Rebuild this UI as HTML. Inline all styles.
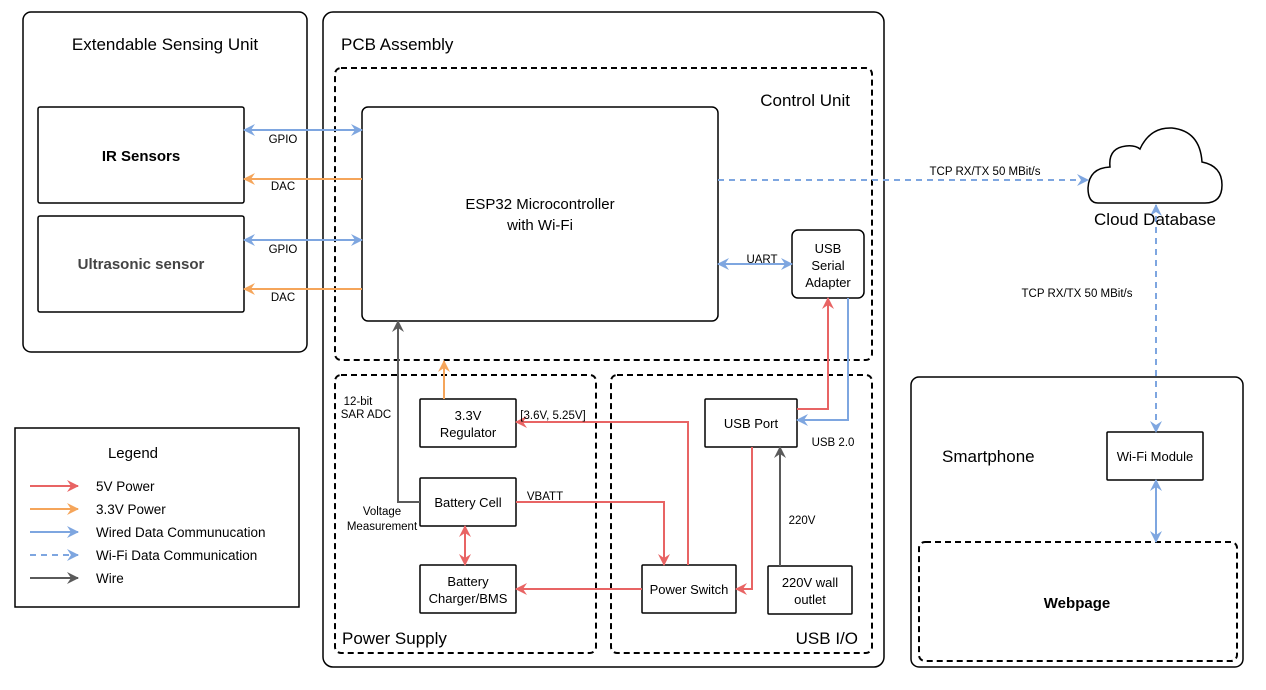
<!DOCTYPE html>
<html><head><meta charset="utf-8"><style>
html,body{margin:0;padding:0;background:#fff;}
svg{display:block;font-family:"Liberation Sans",sans-serif;}
</style></head><body>
<svg width="1266" height="690" viewBox="0 0 1266 690" xmlns="http://www.w3.org/2000/svg">
<defs>
<marker id="r" markerWidth="14" markerHeight="14" refX="11" refY="6" orient="auto-start-reverse" markerUnits="userSpaceOnUse"><path d="M0,0 L12,6 L0,12 L4,6Z" fill="#e86464"/></marker>
<marker id="o" markerWidth="14" markerHeight="14" refX="11" refY="6" orient="auto-start-reverse" markerUnits="userSpaceOnUse"><path d="M0,0 L12,6 L0,12 L4,6Z" fill="#f5a55a"/></marker>
<marker id="b" markerWidth="14" markerHeight="14" refX="11" refY="6" orient="auto-start-reverse" markerUnits="userSpaceOnUse"><path d="M0,0 L12,6 L0,12 L4,6Z" fill="#7ea6e0"/></marker>
<marker id="g" markerWidth="14" markerHeight="14" refX="11" refY="6" orient="auto-start-reverse" markerUnits="userSpaceOnUse"><path d="M0,0 L12,6 L0,12 L4,6Z" fill="#5a5a5a"/></marker>
</defs>
<g fill="none" stroke="#000" stroke-width="1.5">
<rect x="23" y="12" width="284" height="340" rx="8"/>
<rect x="38" y="107" width="206" height="96" rx="2"/>
<rect x="38" y="216" width="206" height="96" rx="2"/>
<rect x="323" y="12" width="561" height="655" rx="10"/>
<rect x="335" y="68" width="537" height="292" rx="6" stroke-dasharray="6,4" stroke-width="2"/>
<rect x="362" y="107" width="356" height="214" rx="6"/>
<rect x="792" y="230" width="72" height="68" rx="6"/>
<rect x="335" y="375" width="261" height="278" rx="6" stroke-dasharray="6,4" stroke-width="2"/>
<rect x="611" y="375" width="261" height="278" rx="6" stroke-dasharray="6,4" stroke-width="2"/>
<rect x="420" y="399" width="96" height="48" rx="1"/>
<rect x="420" y="478" width="96" height="48" rx="1"/>
<rect x="420" y="565" width="96" height="48" rx="1"/>
<rect x="642" y="565" width="94" height="48" rx="1"/>
<rect x="705" y="399" width="92" height="48" rx="1"/>
<rect x="768" y="566" width="84" height="48" rx="1"/>
<rect x="911" y="377" width="332" height="290" rx="8"/>
<rect x="1107" y="432" width="96" height="48" rx="1"/>
<rect x="919" y="542" width="318" height="119" rx="6" stroke-dasharray="6,4" stroke-width="2"/>
<rect x="15" y="428" width="284" height="179"/>
<path d="M1098,203 Q1088,203 1088,188 Q1089,168 1110,167 Q1108,148 1126,146 Q1135,145 1140,149 Q1150,127 1172,128 Q1200,131 1202,162 Q1222,166 1222,185 Q1222,203 1205,203 Z"/>
</g>
<g fill="none" stroke-width="2">
<path d="M244,130 H362" stroke="#7ea6e0" marker-start="url(#b)" marker-end="url(#b)"/>
<path d="M362,179 H244" stroke="#f5a55a" marker-end="url(#o)"/>
<path d="M244,240 H362" stroke="#7ea6e0" marker-start="url(#b)" marker-end="url(#b)"/>
<path d="M362,289 H244" stroke="#f5a55a" marker-end="url(#o)"/>
<path d="M718,180 H1088" stroke="#7ea6e0" stroke-dasharray="6,5" marker-end="url(#b)"/>
<path d="M1156,205 V432" stroke="#7ea6e0" stroke-dasharray="6,5" marker-start="url(#b)" marker-end="url(#b)"/>
<path d="M1156,480 V542" stroke="#7ea6e0" marker-start="url(#b)" marker-end="url(#b)"/>
<path d="M718,264 H792" stroke="#7ea6e0" marker-start="url(#b)" marker-end="url(#b)"/>
<path d="M797,409 H828 V298" stroke="#e86464" marker-end="url(#r)"/>
<path d="M848,298 V420 H797" stroke="#7ea6e0" marker-end="url(#b)"/>
<path d="M420,502 H398 V321" stroke="#5a5a5a" marker-end="url(#g)"/>
<path d="M444,399 V361" stroke="#f5a55a" marker-end="url(#o)"/>
<path d="M688,565 V422 H516" stroke="#e86464" marker-end="url(#r)"/>
<path d="M516,502 H664 V565" stroke="#e86464" marker-end="url(#r)"/>
<path d="M465,526 V565" stroke="#e86464" marker-start="url(#r)" marker-end="url(#r)"/>
<path d="M642,589 H516" stroke="#e86464" marker-end="url(#r)"/>
<path d="M752,447 V589 H736" stroke="#e86464" marker-end="url(#r)"/>
<path d="M780,566 V447" stroke="#5a5a5a" marker-end="url(#g)"/>
<path d="M30,486 H78" stroke="#e86464" marker-end="url(#r)"/>
<path d="M30,509 H78" stroke="#f5a55a" marker-end="url(#o)"/>
<path d="M30,532 H78" stroke="#7ea6e0" marker-end="url(#b)"/>
<path d="M30,555 H78" stroke="#7ea6e0" stroke-dasharray="6,5" marker-end="url(#b)"/>
<path d="M30,578 H78" stroke="#5a5a5a" marker-end="url(#g)"/>
</g>
<g font-size="17" fill="#000">
<text x="165" y="50" text-anchor="middle">Extendable Sensing Unit</text>
<text x="341" y="50">PCB Assembly</text>
<text x="850" y="106" text-anchor="end">Control Unit</text>
<text x="342" y="644">Power Supply</text>
<text x="858" y="644" text-anchor="end">USB I/O</text>
<text x="1155" y="225" text-anchor="middle">Cloud Database</text>
<text x="942" y="462">Smartphone</text>
</g>
<g font-size="15" text-anchor="middle" font-weight="bold">
<text x="141" y="161">IR Sensors</text>
<text x="141" y="269" fill="#444">Ultrasonic sensor</text>
<text x="1077" y="608">Webpage</text>
</g>
<g font-size="15" text-anchor="middle">
<text x="540" y="209">ESP32 Microcontroller</text>
<text x="540" y="230">with Wi-Fi</text>
</g>
<g font-size="13" text-anchor="middle">
<text x="828" y="253">USB</text>
<text x="828" y="270">Serial</text>
<text x="828" y="287">Adapter</text>
<text x="468" y="420">3.3V</text>
<text x="468" y="437">Regulator</text>
<text x="468" y="507">Battery Cell</text>
<text x="468" y="586">Battery</text>
<text x="468" y="603">Charger/BMS</text>
<text x="689" y="594">Power Switch</text>
<text x="751" y="428">USB Port</text>
<text x="810" y="587">220V wall</text>
<text x="810" y="604">outlet</text>
<text x="1155" y="461">Wi-Fi Module</text>
</g>
<g font-size="11.5" text-anchor="middle">
<text x="283" y="143">GPIO</text>
<text x="283" y="190">DAC</text>
<text x="283" y="253">GPIO</text>
<text x="283" y="301">DAC</text>
<text x="762" y="263">UART</text>
<text x="985" y="175">TCP RX/TX 50 MBit/s</text>
<text x="1077" y="297">TCP RX/TX 50 MBit/s</text>
<text x="833" y="446">USB 2.0</text>
<text x="358" y="405">12-bit</text>
<text x="366" y="418">SAR ADC</text>
<text x="382" y="515">Voltage</text>
<text x="382" y="530">Measurement</text>
<text x="553" y="419">[3.6V, 5.25V]</text>
<text x="545" y="500">VBATT</text>
<text x="802" y="524">220V</text>
</g>
<g font-size="13.5">
<text x="133" y="458" text-anchor="middle" font-size="15">Legend</text>
<text x="96" y="491">5V Power</text>
<text x="96" y="514">3.3V Power</text>
<text x="96" y="537">Wired Data Communucation</text>
<text x="96" y="560">Wi-Fi Data Communication</text>
<text x="96" y="583">Wire</text>
</g>
</svg>
</body></html>
